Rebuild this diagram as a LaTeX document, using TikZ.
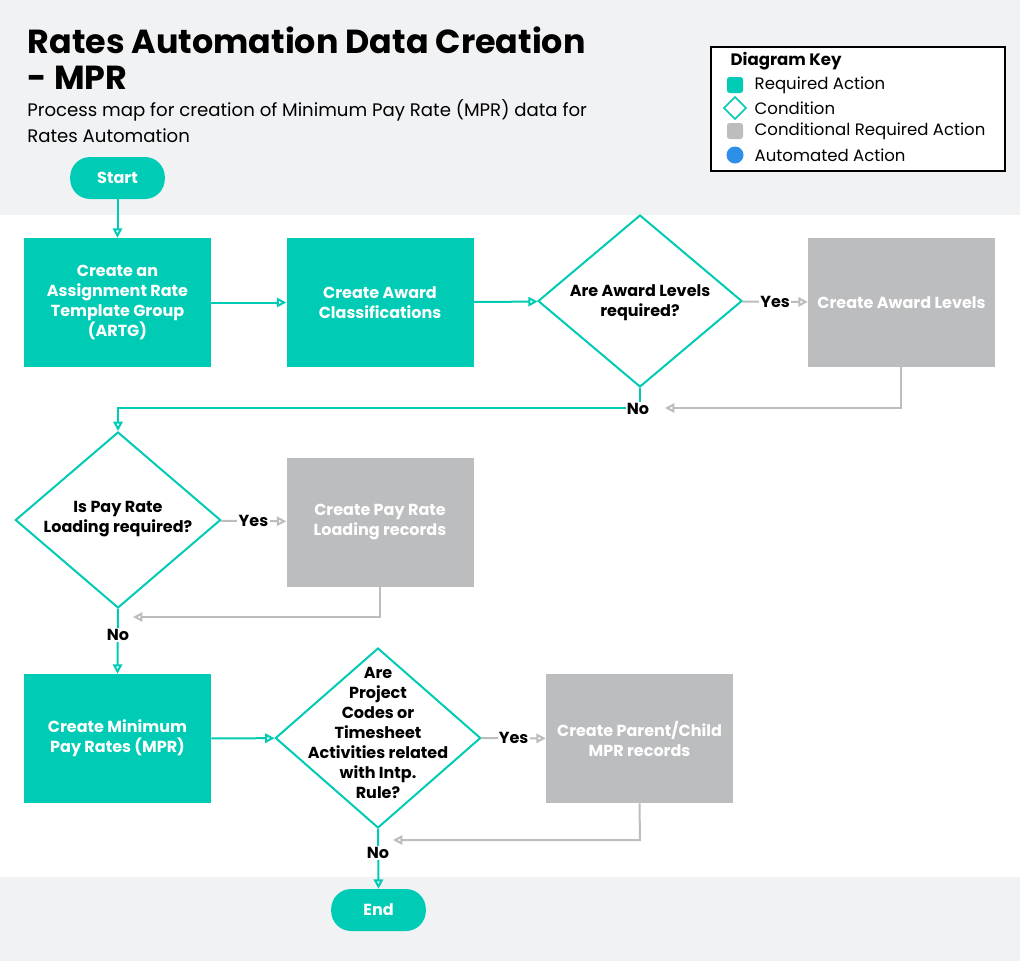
\documentclass[tikz,border=0pt]{standalone}
\usepackage{fontspec}
\setmainfont{Poppins}
\usetikzlibrary{arrows.meta,shapes.geometric}
\definecolor{teal}{HTML}{00CCB6}
\definecolor{gbox}{HTML}{BCBDBF}
\definecolor{gline}{HTML}{BDBDBD}
\definecolor{band}{HTML}{F1F2F4}
\definecolor{autoblue}{HTML}{2C8FE8}
\begin{document}
\begin{tikzpicture}[x=0.75pt,y=-0.75pt,
 act/.style={fill=teal,draw=none,minimum width=140.25pt,minimum height=96.75pt,align=center,text=white,font=\bfseries\fontsize{12}{15}\selectfont},
 cact/.style={act,fill=gbox},
 cond/.style={diamond,draw=teal,line width=1.5pt,fill=white,inner sep=0pt},
 ctext/.style={align=center,font=\bfseries\fontsize{12}{15}\selectfont},
 pill/.style={fill=teal,rounded corners=15pt,minimum width=71pt,minimum height=31.5pt,text=white,font=\bfseries\fontsize{12}{13}\selectfont},
 tl/.style={draw=teal,line width=1.5pt,-{Triangle[open,length=7pt,width=7pt]}},
 gl/.style={draw=gline,line width=1.5pt,-{Triangle[open,length=7pt,width=7pt]}},
 lab/.style={fill=white,inner sep=1pt,font=\bfseries\fontsize{12}{13}\selectfont},
 key/.style={anchor=west,font=\fontsize{12.4}{14}\selectfont}]
\useasboundingbox (0,0) rectangle (1020,961);
\fill[white] (0,0) rectangle (1020,961);
\fill[band] (0,0) rectangle (1020,215);
\fill[band] (0,877) rectangle (1020,961);
\node[anchor=west,font=\bfseries\fontsize{25}{28}\selectfont] (t1) at (23,40) {Rates Automation Data Creation};
\node[anchor=west,font=\bfseries\fontsize{25}{28}\selectfont] (t2) at (23,78) {- MPR};
\node[anchor=north west,align=left,font=\fontsize{13.6}{20}\selectfont,inner sep=0pt] (st) at (27,99) {Process map for creation of Minimum Pay Rate (MPR) data for\\Rates Automation};
\draw[line width=1.5pt,fill=white] (711,47) rectangle (1005,171);
\node[anchor=west,font=\bfseries\fontsize{12.4}{14}\selectfont] (kt) at (726,61) {Diagram Key};
\fill[teal,rounded corners=2pt] (727,77) rectangle (743,93);
\node[diamond,draw=teal,line width=1.2pt,minimum size=17pt,inner sep=0pt] (kd) at (735,108) {};
\fill[gbox,rounded corners=2pt] (727,123) rectangle (743,139);
\fill[autoblue] (735,155) circle (8.5);
\node[key] (k1) at (750,85) {Required Action};
\node[key] (k2) at (750,108) {Condition};
\node[key] (k3) at (750,131) {Conditional Required Action};
\node[key] (k4) at (750,155) {Automated Action};

\node[pill] (start) at (117.5,178) {Start};
\node[act] (b1) at (117.5,302.5) {Create an\\Assignment Rate\\Template Group\\(ARTG)};
\node[act] (b2) at (380,302.5) {Create Award\\Classifications};
\node[cond,minimum width=153pt,minimum height=129pt] (d1) at (640,301) {};
\node[ctext] (d1t) at (640,303) {Are Award Levels\\required?};
\node[cact] (b3) at (901.5,302.5) {Create Award Levels};
\node[cond,minimum width=154pt,minimum height=132pt] (d2) at (118,520) {};
\node[ctext] (d2t) at (118,519) {Is Pay Rate\\Loading required?};
\node[cact] (b4) at (380,522) {Create Pay Rate\\Loading records};
\node[act] (b5) at (117.5,738.5) {Create Minimum\\Pay Rates (MPR)};
\node[cond,minimum width=154pt,minimum height=135pt] (d3) at (378,738) {};
\node[ctext] (d3t) at (378,733) {Are\\Project\\Codes or\\Timesheet\\Activities related\\with Intp.\\Rule?};
\node[cact] (b6) at (639.5,738.5) {Create Parent/Child\\MPR records};
\node[pill] (end) at (378.5,910) {End};

\coordinate (c1) at (640,408);
\coordinate (c2) at (118,408);
\coordinate (c3) at (901,408);
\coordinate (c4) at (380,617);
\coordinate (c5) at (640,840);

\draw[tl] (start) -- (b1);
\draw[tl] (b1) -- (b2);
\draw[tl] (b2) -- (d1);
\draw[gl] (d1) -- node[lab]{Yes} (b3);
\draw[gl] (b3.south -| c3) -- (c3) -- (665,408);
\draw[tl] (d1.south) -- (c1) -- (c2) -- (d2.north);
\node[lab,fill=white] (no1) at (638,409) {No};
\draw[gl] (d2) -- node[lab]{Yes} (b4);
\draw[gl] (b4.south) -- (c4) -- (133,617);
\draw[tl] (d2.south) -- (b5.north);
\node[lab] (no2) at (118,635) {No};
\draw[tl] (b5) -- (d3);
\draw[gl] (d3) -- node[lab]{Yes} (b6);
\draw[gl] (b6.south) -- (c5) -- (393,840);
\draw[tl] (d3.south) -- (end.north);
\node[lab] (no3) at (378,853) {No};
\end{tikzpicture}
\end{document}
